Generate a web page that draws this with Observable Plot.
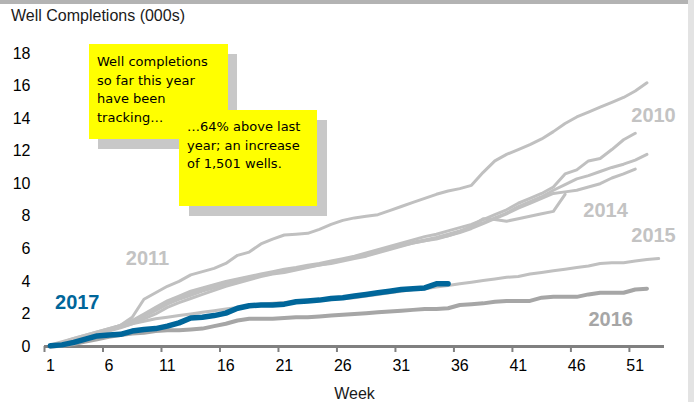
<!DOCTYPE html>
<html><head><meta charset="utf-8">
<script src="https://cdn.jsdelivr.net/npm/d3@7"></script>
<script src="https://cdn.jsdelivr.net/npm/@observablehq/plot@0.6"></script>
<style>
body{margin:0;background:#fff;}
#wrap{position:relative;width:694px;height:402px;overflow:hidden;font-family:"Liberation Sans",Arial,sans-serif;background:#fff;}
#wrap svg{position:absolute;left:0;top:0;}
#topbar{position:absolute;left:0;top:0;width:688px;height:4px;background:#b3b3b3;}
#rightbar{position:absolute;left:688px;top:0;width:6px;height:402px;background:#e3e3e3;}
#title{position:absolute;left:11px;top:7px;font-size:16px;color:#1a1a1a;white-space:nowrap;}
.shadow{position:absolute;background:#c8c8c8;}
.note{position:absolute;background:#ffff00;font-family:"Comic Sans MS","DejaVu Sans",sans-serif;font-size:13px;line-height:18.7px;color:#000;box-sizing:border-box;white-space:nowrap;}
</style></head>
<body>
<div id="wrap">
  <div id="chart"></div>
  <div id="topbar"></div>
  <div id="rightbar"></div>
  <div id="title">Well Completions (000s)</div>
  <div class="shadow" style="left:98px;top:54px;width:139px;height:95px"></div>
  <div class="note" style="left:89px;top:44px;width:139px;height:95px;padding:9px 0 0 8px">Well completions<br>so far this year<br>have been<br>tracking…</div>
  <div class="shadow" style="left:189px;top:120px;width:138px;height:96px"></div>
  <div class="note" style="left:179px;top:110px;width:138px;height:96px;padding:8px 0 0 8px">…64% above last<br>year; an increase<br>of 1,501 wells.</div>
</div>
<script>
// Cumulative well completions (thousands) by week
const y2010 = [0.1,0.3,0.5,0.7,0.9,1.1,1.3,1.8,2.9,3.3,3.7,4.0,4.4,4.6,4.8,5.1,5.6,5.8,6.3,6.6,6.85,6.9,6.95,7.2,7.5,7.75,7.9,8.0,8.1,8.35,8.6,8.85,9.1,9.35,9.55,9.7,9.9,10.7,11.4,11.8,12.1,12.4,12.75,13.2,13.7,14.1,14.4,14.7,15.0,15.3,15.7,16.2];
const y2011 = [0.05,0.25,0.5,0.7,0.9,1.1,1.3,1.6,2.0,2.4,2.8,3.1,3.4,3.6,3.8,4.0,4.15,4.3,4.45,4.6,4.75,4.85,5.0,5.1,5.25,5.4,5.55,5.75,5.95,6.15,6.35,6.55,6.75,6.9,7.1,7.3,7.5,7.8,8.1,8.4,8.8,9.1,9.4,9.8,10.6,10.85,11.4,11.55,12.1,12.7,13.1];
const y2012 = [0,0.2,0.4,0.65,0.85,1.05,1.3,1.5,1.9,2.3,2.7,3.0,3.3,3.55,3.75,3.95,4.1,4.25,4.4,4.55,4.7,4.8,4.9,5.0,5.15,5.3,5.45,5.6,5.8,6.0,6.2,6.4,6.55,6.7,6.9,7.1,7.35,7.6,7.9,8.2,8.6,8.9,9.2,9.6,9.95,10.3,10.5,10.75,11.0,11.2,11.45,11.8];
const y2013 = [0,0.15,0.35,0.55,0.75,0.95,1.15,1.4,1.7,2.0,2.4,2.7,2.95,3.2,3.45,3.7,3.9,4.1,4.3,4.45,4.55,4.7,4.85,5.0,5.1,5.25,5.4,5.55,5.75,5.95,6.15,6.35,6.5,6.65,6.8,7.0,7.25,7.55,7.85,8.15,8.5,8.8,9.1,9.4,9.5,9.6,9.8,10.0,10.35,10.6,10.9];
const y2014 = [0,0.2,0.45,0.65,0.85,1.05,1.25,1.5,1.85,2.2,2.6,2.9,3.15,3.4,3.6,3.85,4.05,4.2,4.35,4.5,4.65,4.75,4.9,5.05,5.2,5.35,5.5,5.65,5.85,6.05,6.2,6.35,6.5,6.6,6.8,7.05,7.4,7.85,7.8,7.7,7.85,8.0,8.15,8.3,9.35];
const y2015 = [0,0.15,0.35,0.55,0.8,1.0,1.2,1.4,1.55,1.7,1.8,1.9,2.0,2.1,2.2,2.3,2.4,2.5,2.6,2.65,2.7,2.75,2.8,2.85,2.9,2.95,3.0,3.1,3.2,3.3,3.4,3.5,3.55,3.65,3.75,3.85,3.95,4.05,4.15,4.25,4.3,4.45,4.55,4.65,4.75,4.85,4.95,5.1,5.15,5.15,5.25,5.35,5.4];
const y2016 = [0,0.05,0.15,0.3,0.45,0.6,0.7,0.8,0.85,0.95,1.0,1.0,1.05,1.1,1.25,1.4,1.6,1.7,1.7,1.7,1.75,1.8,1.8,1.85,1.9,1.95,2.0,2.05,2.1,2.15,2.2,2.25,2.3,2.3,2.35,2.55,2.6,2.65,2.75,2.8,2.8,2.8,3.0,3.05,3.05,3.05,3.2,3.3,3.3,3.3,3.5,3.55];
const y2017 = [0.05,0.1,0.25,0.45,0.65,0.7,0.75,0.95,1.05,1.1,1.25,1.45,1.75,1.8,1.9,2.05,2.35,2.5,2.55,2.55,2.6,2.75,2.8,2.85,2.95,3.0,3.1,3.2,3.3,3.4,3.5,3.55,3.6,3.85,3.85];

const greySeries = {2010: y2010, 2011: y2011, 2012: y2012, 2013: y2013, 2014: y2014, 2015: y2015};
const yTicks = [0,2,4,6,8,10,12,14,16,18];
const weekLabels = [1,6,11,16,21,26,31,36,41,46,51];
const weekBoundaries = [0.5,5.5,10.5,15.5,20.5,25.5,30.5,35.5,40.5,45.5,50.5];
const yearLabels = ["2010","2011","2014","2015","2016","2017"];

const toRows = (year, arr) => arr.map((v, i) => ({year, week: i + 1, value: v}));
const greyRows = Object.entries(greySeries).flatMap(([yr, arr]) => toRows(yr, arr));
const rows2016 = toRows("2016", y2016);
const rows2017 = toRows("2017", y2017);

// label annotation placement (data units) and colours
const labelRows = [
  {t: yearLabels[0], week: 52.56, value: 14.2, c: "#c3c3c3"},
  {t: yearLabels[1], week: 9.3, value: 5.37, c: "#c3c3c3"},
  {t: yearLabels[2], week: 48.46, value: 8.32, c: "#c3c3c3"},
  {t: yearLabels[3], week: 52.56, value: 6.82, c: "#c3c3c3"},
  {t: yearLabels[4], week: 48.9, value: 1.66, c: "#a6a6a6"},
  {t: yearLabels[5], week: 3.3, value: 2.67, c: "#00669a"}
];

const chart = Plot.plot({
  width: 694, height: 402,
  marginLeft: 44, marginRight: 30, marginTop: 53, marginBottom: 56,
  style: {fontFamily: "'Liberation Sans', Arial, sans-serif", background: "transparent", overflow: "visible"},
  x: {domain: [0.5, 53.5], label: null},
  y: {domain: [0, 18], label: null},
  marks: [
    Plot.axisY(yTicks, {tickSize: 0, tickPadding: 14, fontSize: 16, fill: "#000", label: null}),
    Plot.axisX(weekLabels, {tickSize: 0, tickPadding: 13, fontSize: 16, fill: "#000", label: null}),
    Plot.axisX(weekBoundaries, {tickSize: 6, tickFormat: () => "", stroke: "#808080", strokeWidth: 2, label: null}),
    Plot.ruleY([0], {stroke: "#808080", strokeWidth: 3}),
    Plot.text(["Week"], {frameAnchor: "bottom", lineAnchor: "bottom", dy: 52, fontSize: 16, fill: "#1a1a1a"}),
    Plot.line(greyRows, {x: "week", y: "value", z: "year", stroke: "#c0c0c0", strokeWidth: 3, strokeLinejoin: "round", strokeLinecap: "round"}),
    Plot.line(rows2016, {x: "week", y: "value", stroke: "#a6a6a6", strokeWidth: 4, strokeLinejoin: "round", strokeLinecap: "round"}),
    Plot.line(rows2017, {x: "week", y: "value", stroke: "#00669a", strokeWidth: 5.5, strokeLinejoin: "round", strokeLinecap: "round"}),
    Plot.text(labelRows, {x: "week", y: "value", text: "t", fill: "c", fontSize: 20, fontWeight: "bold"})
  ]
});
document.getElementById("chart").appendChild(chart);
</script>
</body></html>
